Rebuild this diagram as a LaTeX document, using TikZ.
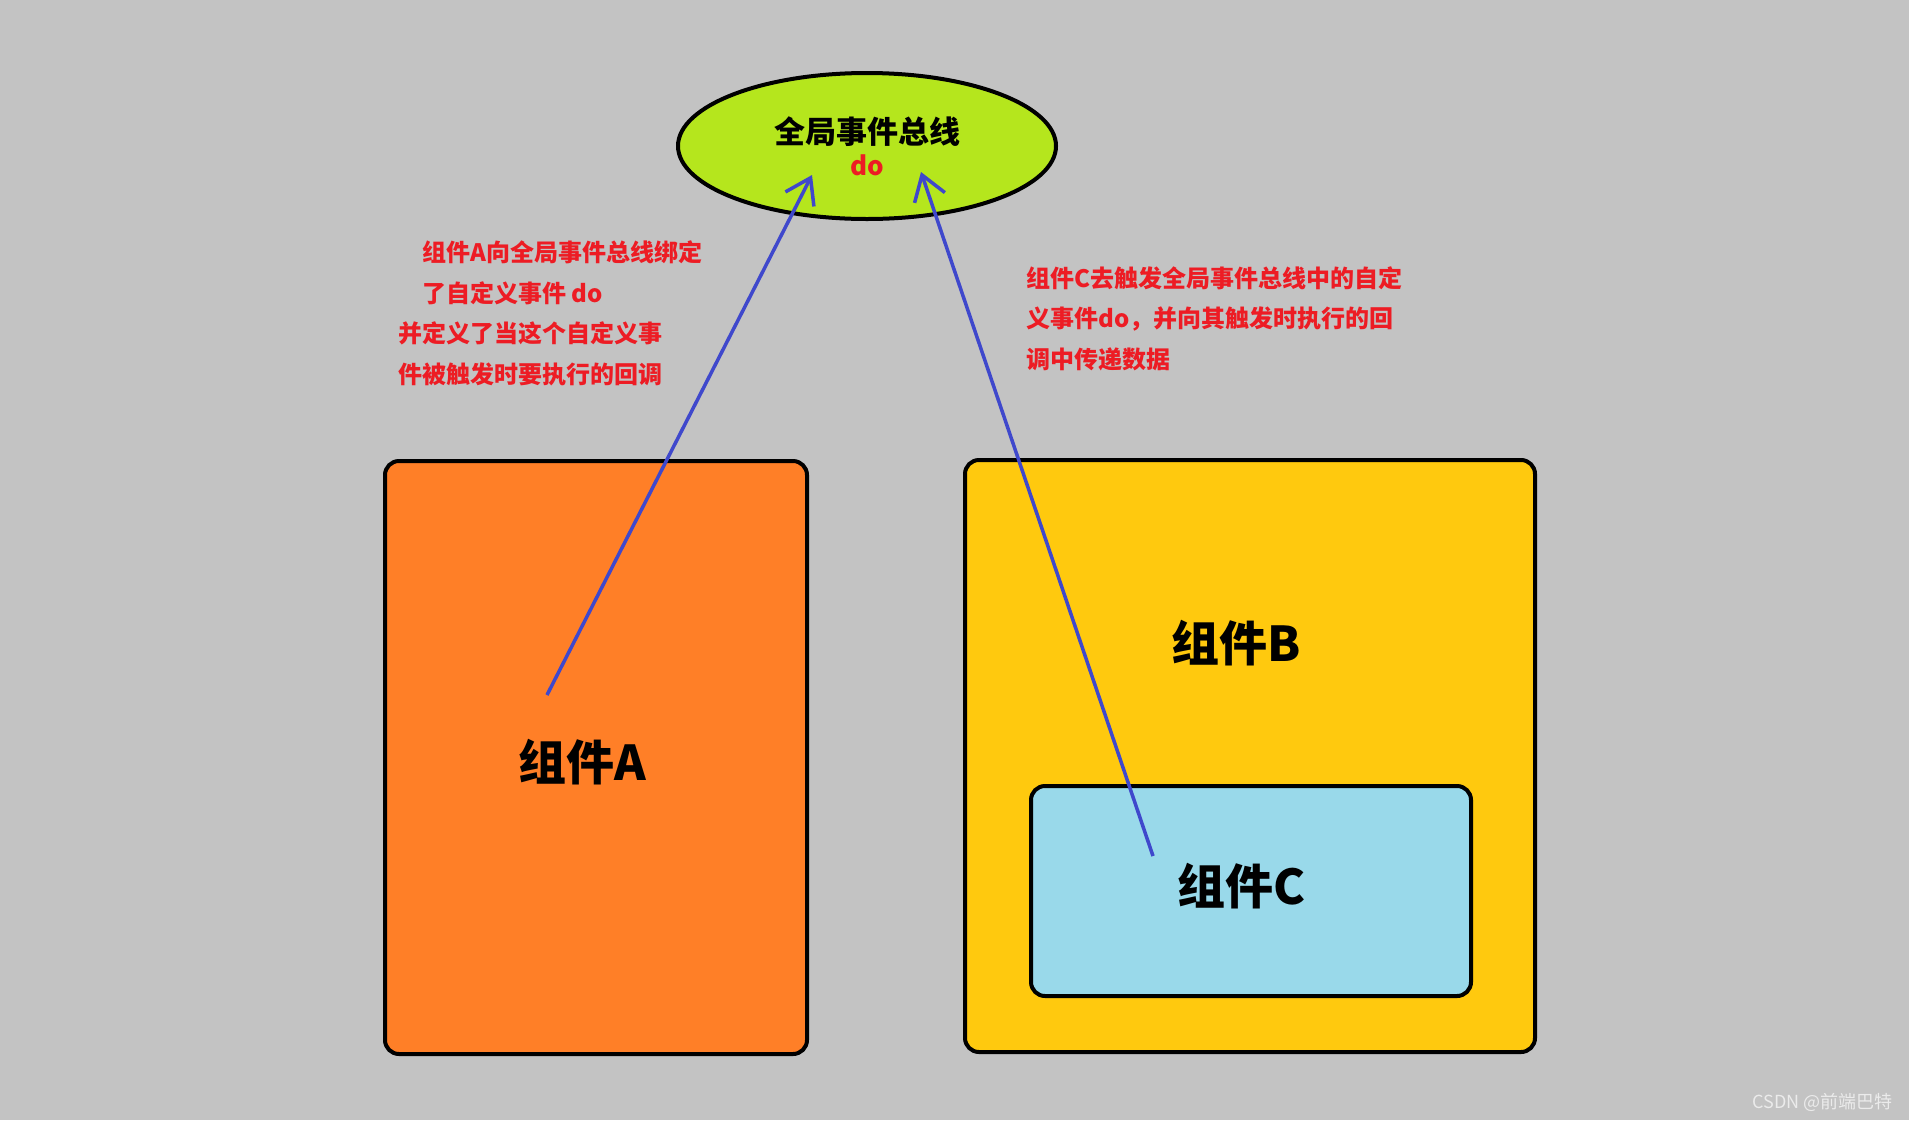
\documentclass[tikz,border=0pt]{standalone}
\usepackage{fontspec}
\usepackage{xcolor}
\usepackage{tikz}
\usetikzlibrary{positioning,arrows.meta,shapes.geometric}
\newfontfamily\cjk{Noto Sans CJK SC}
\definecolor{bggray}{RGB}{195,195,195}
\definecolor{buslime}{RGB}{181,230,29}
\definecolor{compA}{RGB}{255,127,39}
\definecolor{compB}{RGB}{255,201,14}
\definecolor{compC}{RGB}{153,217,234}
\definecolor{notered}{RGB}{237,28,36}
\definecolor{linkblue}{RGB}{63,72,204}
\begin{document}
\begin{tikzpicture}[x=1pt,y=-1pt,
        comp/.style={rectangle,draw=black,line width=4pt,rounded corners=14pt,inner sep=0pt},
        bus/.style={ellipse,draw=black,line width=4pt,fill=buslime,inner sep=0pt,align=center,font=\cjk\bfseries\fontsize{31}{34}\selectfont},
        title/.style={font=\cjk\bfseries\fontsize{48}{52}\selectfont,inner sep=0pt},
        note/.style={font=\cjk\bfseries\fontsize{24}{40.5}\selectfont,text=notered,align=left,inner sep=0pt,anchor=west},
        arrow/.style={-{Straight Barb[length=24pt,width=32pt]},line width=3.5pt,draw=linkblue}]
        \fill[bggray] (0,0) rectangle (1909,1120);
        % components
        \node[comp,fill=compA,minimum width=422pt,minimum height=593pt] (a) at (596,757.5) {};
        \node[comp,fill=compB,minimum width=570pt,minimum height=592pt] (b) at (1250,756) {};
        \node[comp,fill=compC,minimum width=440pt,minimum height=210pt] (c) at (1251,891) {};
        \node[title] (labA) at (582,762) {组件A};
        \node[title] (labB) at (1236,643) {组件B};
        \node[title] (labC) at (1241,886) {组件C};
        % event bus
        \node[bus,minimum width=378pt,minimum height=146pt] (bus) at (867,146)
            {全局事件总线\\[-2pt]{\fontsize{26}{30}\selectfont\color{notered}do}};
        % notes
        \node[note] (noteA) at (398,313.5) {\hspace*{24pt}组件A向全局事件总线绑定\\\hspace*{24pt}了自定义事件 do\\并定义了当这个自定义事\\件被触发时要执行的回调};
        \node[note] (noteC) at (1026,318.5) {组件C去触发全局事件总线中的自定\\义事件do，并向其触发时执行的回\\调中传递数据};
        % arrows
        \coordinate (fromA) at (547,695);
        \coordinate (toA) at (812,175);
        \coordinate (fromC) at (1153,856);
        \coordinate (toC) at (921,172);
        \draw[arrow] (fromA) -- (toA);
        \draw[arrow] (fromC) -- (toC);
        \node[font=\cjk\fontsize{18}{18}\selectfont,text=white!92!black,anchor=east] (mark) at (1896,1102) {CSDN @前端巴特};
    \end{tikzpicture}
\end{document}
